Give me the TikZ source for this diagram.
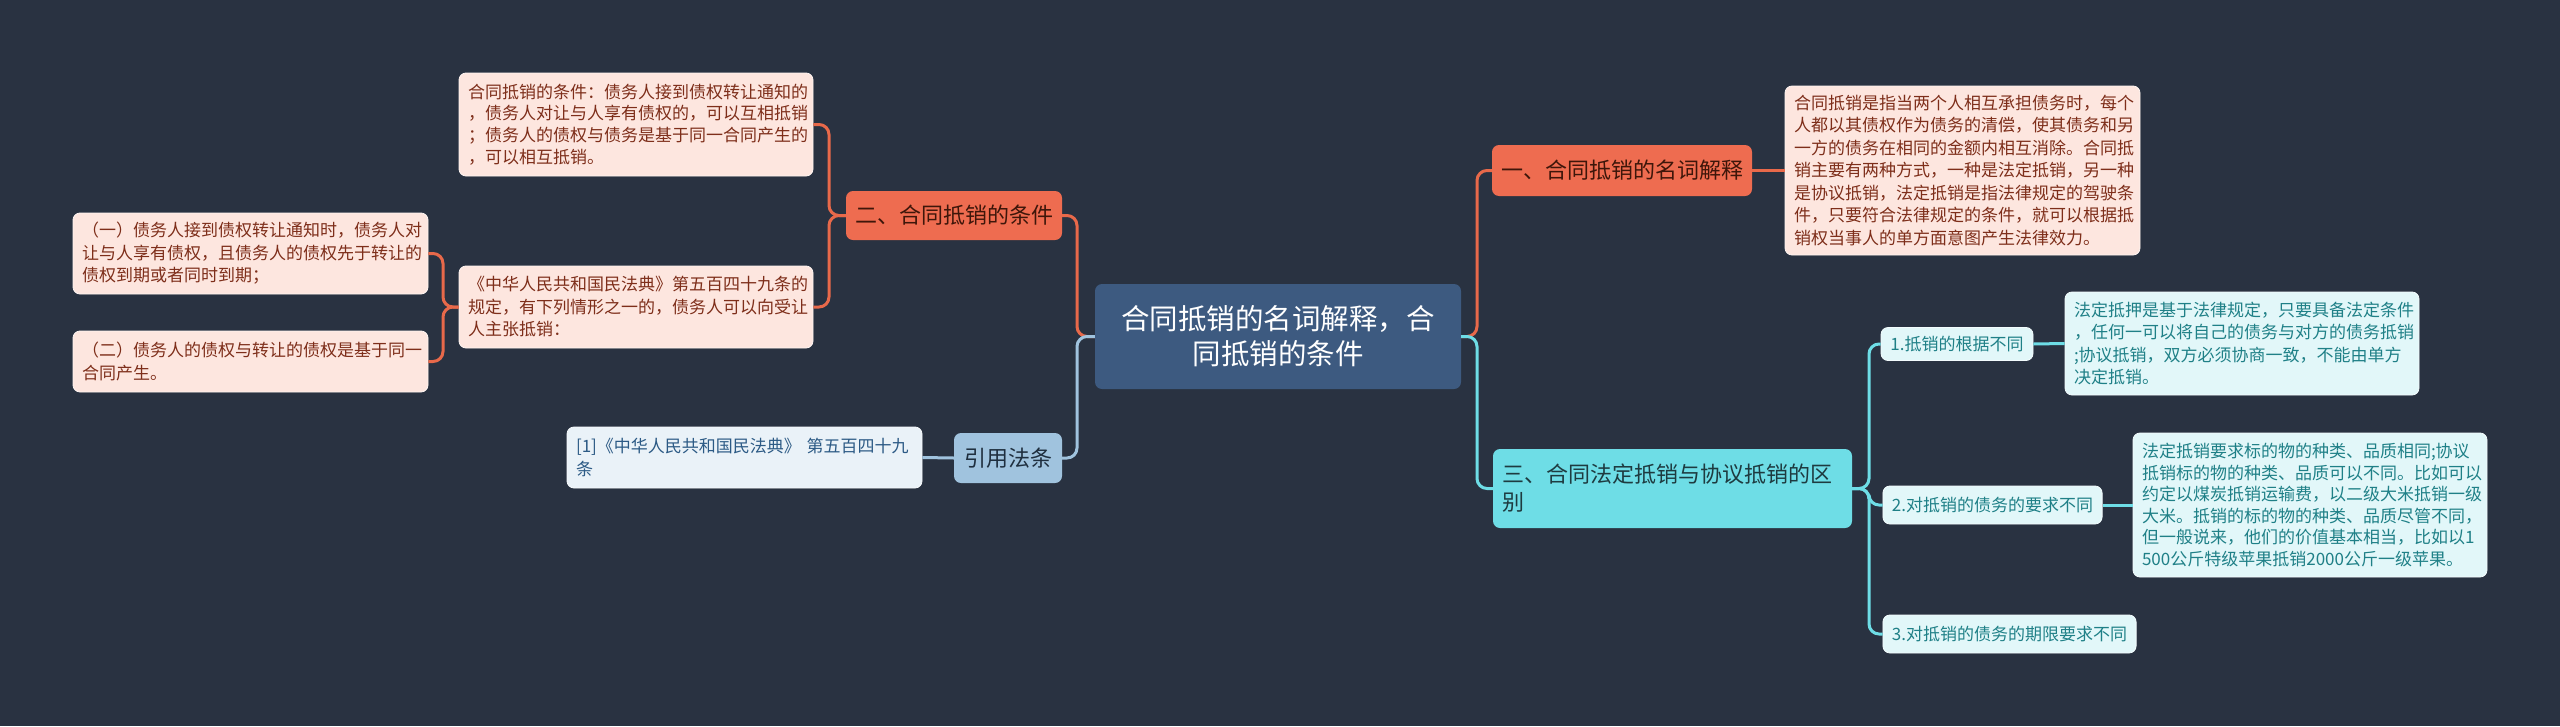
\documentclass[tikz,border=0pt]{standalone}
\usepackage{fontspec}
\setmainfont{Noto Sans CJK SC}
\definecolor{bgc}{HTML}{293241}
\definecolor{cenfill}{HTML}{3D5A80}
\definecolor{orfill}{HTML}{EE6C50}
\definecolor{ortext}{HTML}{3E160A}
\definecolor{pkfill}{HTML}{FDE6DF}
\definecolor{pktext}{HTML}{7E2E1A}
\definecolor{cyfill}{HTML}{6EDDE6}
\definecolor{cytext}{HTML}{1E3B40}
\definecolor{lcyfill}{HTML}{E2F7F9}
\definecolor{lcytext}{HTML}{1F8087}
\definecolor{lbfill}{HTML}{A0C3DE}
\definecolor{lbtext}{HTML}{1F2F3F}
\definecolor{llbfill}{HTML}{EAF2F8}
\definecolor{llbtext}{HTML}{2C5A85}
\definecolor{orline}{HTML}{E8694A}
\definecolor{cyline}{HTML}{6EDDE6}
\definecolor{lbline}{HTML}{A0C3DE}
\begin{document}
\begin{tikzpicture}[x=1pt,y=-1pt,
  basebox/.style={rounded corners=7pt, inner xsep=9pt, inner ysep=0pt, align=left},
  cenbox/.style={basebox, fill=cenfill, text=white, align=center, font=\fontsize{28.5pt}{35pt}\selectfont},
  orbox/.style={basebox, fill=orfill, text=ortext, font=\fontsize{22pt}{28pt}\selectfont},
  pkbox/.style={basebox, fill=pkfill, draw=white!60!pkfill, line width=0.8pt, text=pktext, font=\fontsize{17pt}{22.5pt}\selectfont},
  cybox/.style={basebox, fill=cyfill, text=cytext, font=\fontsize{22pt}{28pt}\selectfont},
  lcybox/.style={basebox, fill=lcyfill, draw=white!60!lcyfill, line width=0.8pt, text=lcytext, font=\fontsize{17pt}{22.5pt}\selectfont},
  lbbox/.style={basebox, fill=lbfill, text=lbtext, font=\fontsize{22pt}{28pt}\selectfont},
  llbbox/.style={basebox, fill=llbfill, draw=white!60!llbfill, line width=0.8pt, text=llbtext, font=\fontsize{17pt}{22.5pt}\selectfont},
  oline/.style={draw=orline, line width=3pt, rounded corners=10pt},
  cline/.style={draw=cyline, line width=3pt, rounded corners=10pt},
  bline/.style={draw=lbline, line width=3pt, rounded corners=10pt}
]
\useasboundingbox (0,0) rectangle (2560,726);
\fill[bgc] (0,0) rectangle (2560,726);

% spine coordinates
\coordinate (sL) at (1077,337);
\coordinate (sR) at (1477,337);
\coordinate (s2) at (829,215);
\coordinate (s4) at (443,307);
\coordinate (s3) at (1869,488);

% nodes
\node[cenbox, minimum width=366pt, minimum height=105pt, text width=348pt] (cen) at (1278,336.5) {合同抵销的名词解释，合\\同抵销的条件};

\node[orbox, minimum width=260pt, minimum height=51pt] (n1) at (1622,170.5) {一、合同抵销的名词解释};
\node[pkbox, minimum width=355pt, minimum height=169pt, text width=337pt] (def) at (1962.5,170.5) {合同抵销是指当两个人相互承担债务时，每个\\人都以其债权作为债务的清偿，使其债务和另\\一方的债务在相同的金额内相互消除。合同抵\\销主要有两种方式，一种是法定抵销，另一种\\是协议抵销，法定抵销是指法律规定的驾驶条\\件，只要符合法律规定的条件，就可以根据抵\\销权当事人的单方面意图产生法律效力。};

\node[cybox, minimum width=359pt, minimum height=79pt, text width=341pt] (n3) at (1672.5,488.5) {三、合同法定抵销与协议抵销的区\\别};

\node[lcybox, minimum width=152pt, minimum height=33pt] (b1) at (1957,344) {1.抵销的根据不同};
\node[lcybox, minimum width=354pt, minimum height=103pt, text width=336pt] (t1) at (2242,343.5) {法定抵押是基于法律规定，只要具备法定条件\\，任何一可以将自己的债务与对方的债务抵销\\;协议抵销，双方必须协商一致，不能由单方\\决定抵销。};

\node[lcybox, minimum width=215pt, minimum height=38pt] (b2) at (1992.5,505) {2.对抵销的债务的要求不同};
\node[lcybox, minimum width=354pt, minimum height=144pt, text width=336pt, font=\fontsize{17pt}{21.5pt}\selectfont] (t2) at (2310,505) {法定抵销要求标的物的种类、品质相同;协议\\抵销标的物的种类、品质可以不同。比如可以\\约定以煤炭抵销运输费，以二级大米抵销一级\\大米。抵销的标的物的种类、品质尽管不同，\\但一般说来，他们的价值基本相当，比如以1\\500公斤特级苹果抵销2000公斤一级苹果。};

\node[lcybox, minimum width=251pt, minimum height=38pt] (b3) at (2009.5,634) {3.对抵销的债务的期限要求不同};

\node[orbox, minimum width=216pt, minimum height=49pt] (n2) at (954,215.5) {二、合同抵销的条件};
\node[pkbox, minimum width=354pt, minimum height=103pt, text width=336pt, font=\fontsize{17pt}{21.8pt}\selectfont] (tl) at (636,124.5) {合同抵销的条件：债务人接到债权转让通知的\\，债务人对让与人享有债权的，可以互相抵销\\；债务人的债权与债务是基于同一合同产生的\\，可以相互抵销。};
\node[pkbox, minimum width=354pt, minimum height=82pt, text width=336pt] (law) at (636,307) {《中华人民共和国民法典》第五百四十九条的\\规定，有下列情形之一的，债务人可以向受让\\人主张抵销：};
\node[pkbox, minimum width=355pt, minimum height=81pt, text width=337pt] (c1) at (250.5,253.5) {（一）债务人接到债权转让通知时，债务人对\\让与人享有债权，且债务人的债权先于转让的\\债权到期或者同时到期；};
\node[pkbox, minimum width=355pt, minimum height=61pt, text width=337pt] (c2) at (250.5,361.5) {（二）债务人的债权与转让的债权是基于同一\\合同产生。};

\node[lbbox, minimum width=108pt, minimum height=50pt] (ref) at (1008,458) {引用法条};
\node[llbbox, minimum width=355pt, minimum height=61pt, text width=337pt] (refl) at (744.5,457.5) {[1]《中华人民共和国民法典》 第五百四十九\\条};

% connectors (drawn behind boxes)
\begin{scope}[on background layer/.try]
\end{scope}
\draw[oline] (cen.west) -- (cen.west -| sL) |- (n2.east);
\draw[bline] (cen.west) -- (cen.west -| sL) |- (ref.east);
\draw[bline] (ref.west) -- (refl.east);
\draw[oline] (n2.west) -- (n2.west -| s2) |- (tl.east);
\draw[oline] (n2.west) -- (n2.west -| s2) |- (law.east);
\draw[oline] (law.west) -- (law.west -| s4) |- (c1.east);
\draw[oline] (law.west) -- (law.west -| s4) |- (c2.east);
\draw[oline] (cen.east) -- (cen.east -| sR) |- (n1.west);
\draw[cline] (cen.east) -- (cen.east -| sR) |- (n3.west);
\draw[oline] (n1.east) -- (def.west);
\draw[cline] (n3.east) -- (n3.east -| s3) |- (b1.west);
\draw[cline] (n3.east) -- (n3.east -| s3) |- (b2.west);
\draw[cline] (n3.east) -- (n3.east -| s3) |- (b3.west);
\draw[cline] (b1.east) -- (t1.west);
\draw[cline] (b2.east) -- (t2.west);
\end{tikzpicture}
\end{document}
